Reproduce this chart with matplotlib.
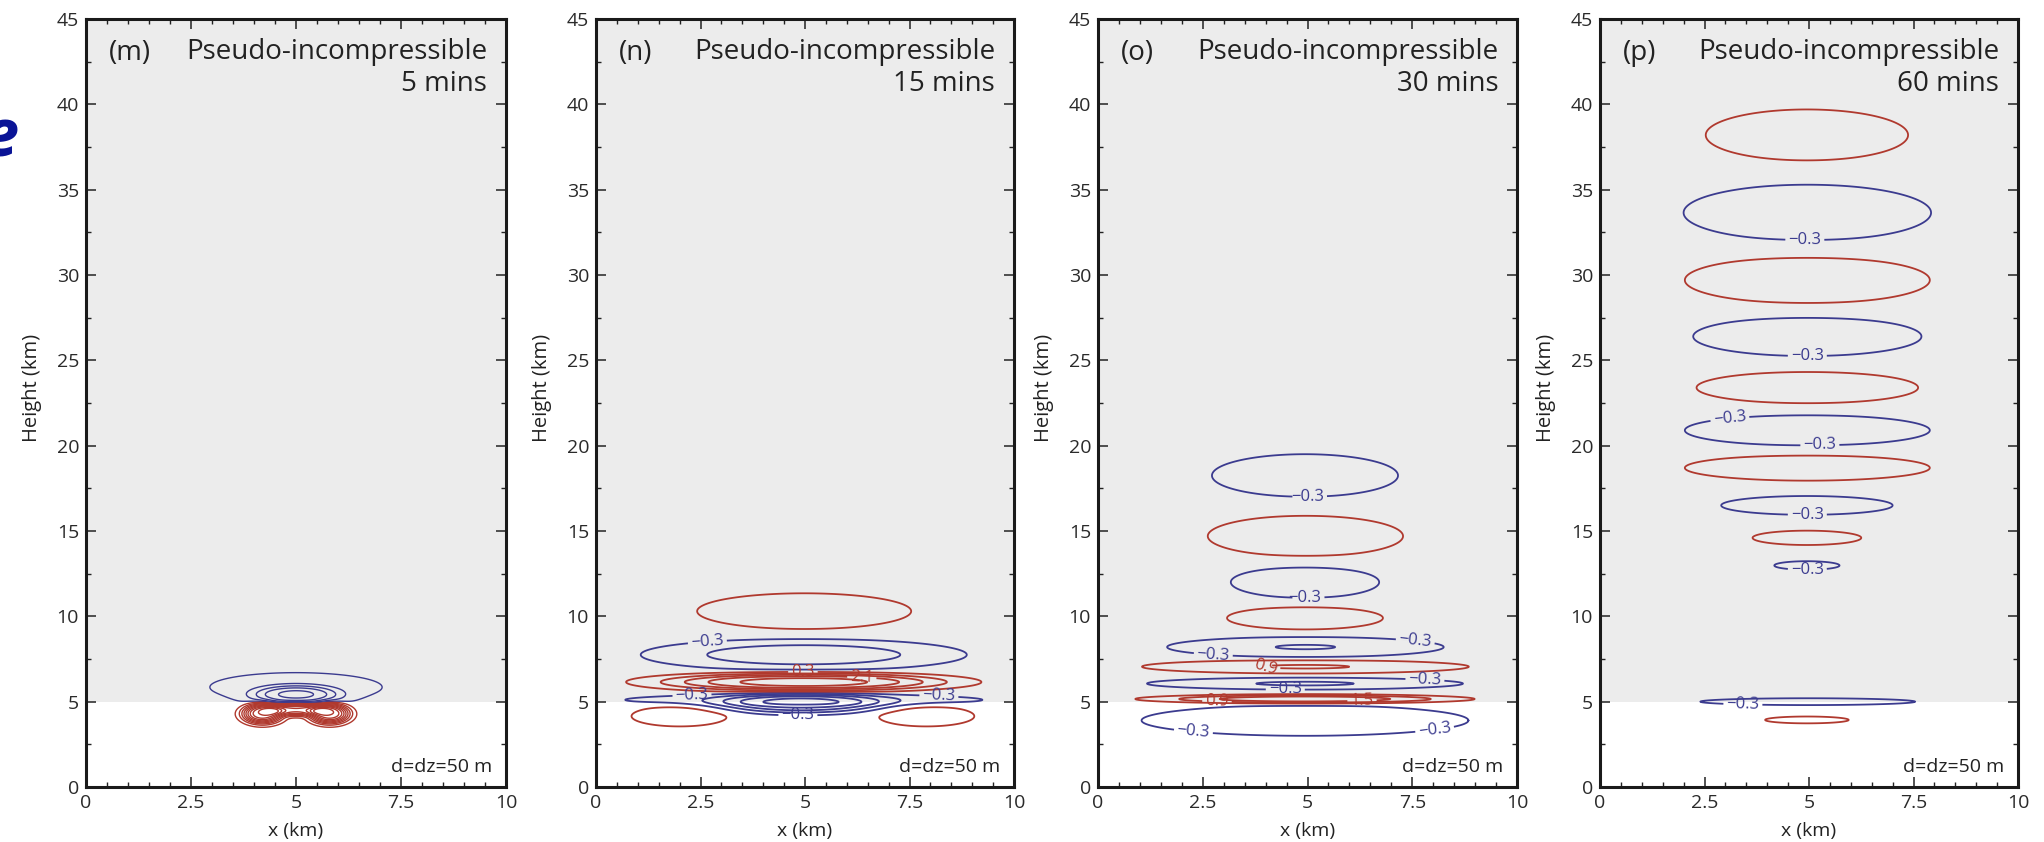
import numpy as np
import matplotlib.pyplot as plt
from matplotlib.ticker import MultipleLocator

plt.rcParams['font.family'] = ['Open Sans', 'DejaVu Sans']

# potential temperature perturbation contours, every 0.6 K, zero omitted
neg_levels = [-5.1, -4.5, -3.9, -3.3, -2.7, -2.1, -1.5, -0.9, -0.3]
pos_levels = [0.3, 0.9, 1.5, 2.1, 2.7, 3.3, 3.9, 4.5, 5.1]

panel_tags = ['(m)', '(n)', '(o)', '(p)']
panel_times = ['5 mins', '15 mins', '30 mins', '60 mins']
model_name = 'Pseudo-incompressible'
grid_note = 'd=dz=50 m'

x_ticks = [0, 2.5, 5, 7.5, 10]
x_tick_labels = ['0', '2.5', '5', '7.5', '10']
z_ticks = [0, 5, 10, 15, 20, 25, 30, 35, 40, 45]
z_top = 45
stable_base = 5.0   # shaded layer starts here

# wave packets: (x centre km, z centre km, half width km, half height km, peak K)
lobes_m = [
    (5.0, 5.85, 2.05, 0.85, -0.5),
    (5.0, 5.40, 1.30, 0.70, -2.4),
    (4.2, 4.30, 0.65, 0.80, 5.0),
    (5.8, 4.30, 0.65, 0.80, 5.0),
    (5.0, 4.55, 0.90, 0.50, 3.5),
]
lobes_n = [
    (4.98, 10.30, 2.56, 1.05, 0.6),
    (4.97, 7.75, 3.90, 0.95, -1.2),
    (4.97, 6.15, 4.25, 0.65, 3.0),
    (4.97, 5.10, 4.30, 0.35, -0.8),
    (4.90, 4.90, 2.40, 0.70, -2.2),
    (2.00, 4.15, 1.15, 0.60, 0.55),
    (7.90, 4.15, 1.15, 0.60, 0.55),
]
lobes_o = [
    (4.94, 18.25, 2.22, 1.25, -0.6),
    (4.95, 14.70, 2.33, 1.20, 0.6),
    (4.94, 12.00, 1.77, 0.93, -0.6),
    (4.94, 9.90, 1.86, 0.67, 0.6),
    (4.95, 8.20, 3.30, 0.60, -0.91),
    (4.95, 7.05, 3.90, 0.40, 0.92),
    (4.94, 6.06, 3.77, 0.35, -0.93),
    (4.94, 5.15, 4.13, 0.30, 2.0),
    (4.94, 3.90, 3.90, 0.90, -0.5),
]
lobes_p = [
    (4.95, 38.20, 2.42, 1.50, 0.6),
    (4.96, 33.65, 2.96, 1.65, -0.6),
    (4.96, 29.70, 2.93, 1.38, 0.6),
    (4.96, 26.40, 2.73, 1.15, -0.6),
    (4.96, 23.40, 2.65, 0.93, 0.6),
    (4.96, 20.90, 2.93, 0.90, -0.6),
    (4.96, 18.70, 2.93, 0.75, 0.6),
    (4.95, 16.50, 2.05, 0.55, -0.6),
    (4.95, 14.60, 1.30, 0.42, 0.6),
    (4.95, 12.98, 0.78, 0.25, -0.6),
    (4.97, 5.00, 2.57, 0.20, -0.6),
    (4.95, 3.93, 1.00, 0.20, 0.5),
]

# where the contour values are written
labels_m = []
labels_n = [(2.66, 8.65), (4.95, 6.7), (6.36, 6.45), (2.3, 5.15), (8.2, 5.15),
            (4.83, 4.2)]
labels_o = [(5.0, 17.0), (4.94, 11.05), (2.75, 7.7), (7.57, 8.5), (4.0, 7.0),
            (4.47, 5.8), (7.8, 6.15), (2.84, 5.1), (6.3, 5.1), (2.27, 3.05),
            (8.05, 3.05)]
labels_p = [(4.9, 32.0), (4.96, 25.25), (3.1, 21.75), (5.26, 20.0),
            (4.96, 15.95), (4.96, 12.8), (3.42, 5.0)]

all_lobes = [lobes_m, lobes_n, lobes_o, lobes_p]
all_labels = [labels_m, labels_n, labels_o, labels_p]

RED = '#b0392e'
BLUE = '#3b3b8f'
SHADE = '#ececec'
TEXT = '#222222'


def theta_field(X, Z, lobes):
    f = np.zeros_like(X)
    for x0, z0, hw, hh, amp in lobes:
        r = np.sqrt(((X - x0) / hw) ** 2 + ((Z - z0) / hh) ** 2)
        # outermost 0.3 contour sits at r = 1
        f += amp * np.exp(-np.log(abs(amp) / 0.3) * r ** 3)
    return f


def fmt_level(v):
    return f'{v:.1f}'.replace('-', '\u2212')


x = np.linspace(0, 10, 501)
z = np.linspace(0, z_top, 2251)
X, Z = np.meshgrid(x, z)

fig = plt.figure(figsize=(20.44, 8.42), dpi=100)

lefts = [86, 596, 1098, 1600]
widths = [420, 418, 419, 418]
W, H = 2044, 842
bottom_px, top_px = 787, 19

levels = neg_levels + pos_levels
colors = [BLUE] * len(neg_levels) + [RED] * len(pos_levels)

for i in range(4):
    ax = fig.add_axes([lefts[i] / W, (H - bottom_px) / H, widths[i] / W,
                       (bottom_px - top_px) / H])
    ax.set_facecolor('white')
    ax.axhspan(stable_base, z_top, color=SHADE, zorder=0, lw=0)

    th = theta_field(X, Z, all_lobes[i])
    lw = 1.0 if i == 0 else 1.3
    cs = ax.contour(X, Z, th, levels=levels, colors=colors, linewidths=lw,
                    linestyles='solid', zorder=2)
    if all_labels[i]:
        ax.clabel(cs, manual=all_labels[i], fmt=fmt_level, fontsize=12,
                  inline=True, inline_spacing=3)

    ax.set_xlim(0, 10)
    ax.set_ylim(0, z_top)
    ax.set_xticks(x_ticks)
    ax.set_xticklabels(x_tick_labels)
    ax.set_yticks(z_ticks)
    ax.xaxis.set_minor_locator(MultipleLocator(0.5))
    ax.yaxis.set_minor_locator(MultipleLocator(2.5))
    ax.tick_params(which='both', direction='in', top=True, right=True,
                   colors='#222222', labelcolor='#2a2a2a', labelsize=14)
    ax.tick_params(which='major', length=7, width=1.1, pad=5)
    ax.tick_params(which='minor', length=3.5, width=1.0)
    for sp in ax.spines.values():
        sp.set_linewidth(2.2)
        sp.set_color('#1a1a1a')

    ax.set_xlabel('x (km)', fontsize=14, color=TEXT)
    ax.xaxis.set_label_coords(0.5, -0.046)
    ax.set_ylabel('Height (km)', fontsize=14.5, color=TEXT)
    ax.yaxis.set_label_coords(-0.105, 0.52)

    ax.text(0.055, 0.946, panel_tags[i], transform=ax.transAxes, fontsize=20,
            color=TEXT, ha='left', va='baseline')
    ax.text(0.955, 0.948, model_name, transform=ax.transAxes, fontsize=20,
            color=TEXT, ha='right', va='baseline')
    ax.text(0.955, 0.906, panel_times[i], transform=ax.transAxes, fontsize=20,
            color=TEXT, ha='right', va='baseline')
    ax.text(0.967, 0.0195, grid_note, transform=ax.transAxes, fontsize=14,
            color=TEXT, ha='right', va='baseline')

# edge of the slide heading
fig.text(18 / W, 1 - 139 / H, 'e', fontsize=48, fontweight='bold',
         fontstyle='italic', color='#0a1496', ha='right', va='center')

fig.savefig('out.png', dpi=100)
